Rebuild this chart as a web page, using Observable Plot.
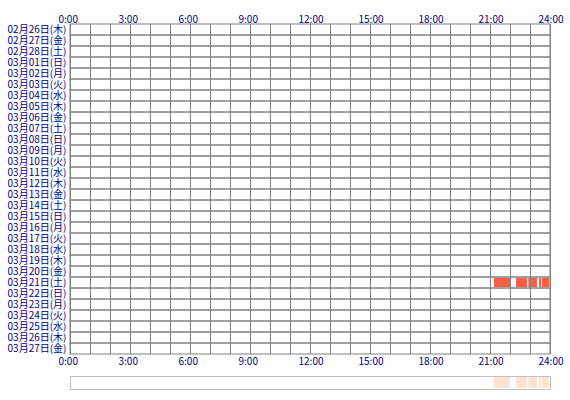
<!DOCTYPE html>
<html>
<head>
<meta charset="utf-8">
<script src="https://cdn.jsdelivr.net/npm/d3@7"></script>
<script src="https://cdn.jsdelivr.net/npm/@observablehq/plot@0.6"></script>
<style>
  html, body { margin: 0; padding: 0; background: #fff; }
  svg { display: block; }
</style>
</head>
<body>
<div id="chart"></div>
<script>
const days = [
  "02月26日(木)","02月27日(金)","02月28日(土)","03月01日(日)","03月02日(月)",
  "03月03日(火)","03月04日(水)","03月05日(木)","03月06日(金)","03月07日(土)",
  "03月08日(日)","03月09日(月)","03月10日(火)","03月11日(水)","03月12日(木)",
  "03月13日(金)","03月14日(土)","03月15日(日)","03月16日(月)","03月17日(火)",
  "03月18日(水)","03月19日(木)","03月20日(金)","03月21日(土)","03月22日(日)",
  "03月23日(月)","03月24日(火)","03月25日(水)","03月26日(木)","03月27日(金)"
];
const hourTicks = [0, 3, 6, 9, 12, 15, 18, 21, 24];
const gridHours = [0,1,2,3,4,5,6,7,8,9,10,11,12,13,14,15,16,17,18,19,20,21,22,23,24];
const sessionDay   = ["03月21日(土)","03月21日(土)","03月21日(土)","03月21日(土)","03月21日(土)","03月22日(日)"];
const sessionStart = ["21:12","22:18","22:55","23:27","23:36","0:00"];
const sessionEnd   = ["22:00","22:51","23:21","23:33","23:57","0:03"];

const toH = s => { const [h, m] = s.split(":").map(Number); return h + m / 60; };
const sessions = sessionDay.map((d, i) => ({day: d, start: toH(sessionStart[i]), end: toH(sessionEnd[i])}));

const textStyle = {
  fontFamily: "'Noto Sans CJK JP', 'Noto Sans', sans-serif",
  fontSize: "10px",
  color: "#000088",
  background: "#fff"
};

const main = Plot.plot({
  width: 570, height: 368,
  marginLeft: 70, marginRight: 20, marginTop: 24, marginBottom: 14,
  style: textStyle,
  x: {domain: [0, 24], axis: null},
  y: {type: "band", domain: days, padding: 0, axis: null},
  marks: [
    Plot.rect(sessions, {x1: "start", x2: "end", y: "day", fill: "#ff5e45", insetTop: 1, insetBottom: 1}),
    Plot.rect(days, {y: d => d, x1: 0, x2: 24, fill: "none", stroke: "#808080"}),
    Plot.ruleX(gridHours, {x: d => d, stroke: "#808080"}),
    Plot.axisY({tickSize: 0, tickPadding: 4, label: null}),
    Plot.text(hourTicks, {x: d => d, text: d => d + ":00", frameAnchor: "top", dy: -9, dx: -12, textAnchor: "start"}),
    Plot.text(hourTicks, {x: d => d, text: d => d + ":00", frameAnchor: "bottom", dy: 10, dx: -12, textAnchor: "start"})
  ]
});

const summary = Plot.plot({
  width: 570, height: 32,
  marginLeft: 70, marginRight: 20, marginTop: 8, marginBottom: 11,
  style: textStyle,
  x: {domain: [0, 24], axis: null},
  marks: [
    Plot.rect(sessions, {x1: "start", x2: "end", fill: "#ffe2d2", insetTop: 1, insetBottom: 1}),
    Plot.frame({stroke: "#c0c0c0"})
  ]
});

document.getElementById("chart").append(main, summary);
</script>
</body>
</html>
